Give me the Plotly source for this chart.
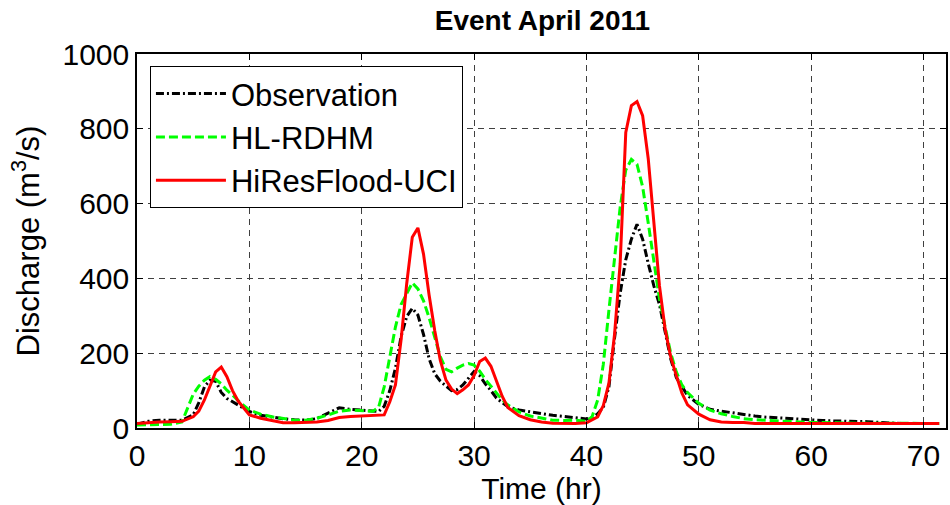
import plotly.graph_objects as go

# Time axis (hours since event start)
time_hr = [0, 1, 2, 3, 4, 5, 5.5, 6, 6.5, 7, 7.5, 8, 8.5, 9, 10, 11, 12, 13, 14, 15,
           16, 17, 18, 19, 20, 21, 21.5, 22, 22.5, 23, 23.5, 24, 24.5, 25, 25.5, 26,
           26.5, 27, 27.5, 28, 28.5, 29, 29.5, 30, 30.5, 31, 31.5, 32, 32.5, 33, 34,
           35, 36, 37, 38, 39, 40, 40.5, 41, 41.5, 42, 42.5, 43, 43.5, 44, 44.5, 45,
           45.5, 46, 46.5, 47, 47.5, 48, 48.5, 49, 50, 51, 52, 53, 54, 55, 56, 57, 58,
           59, 60, 61, 62, 63, 64, 65, 66, 67, 68, 69, 70, 71, 71.4]

observation = [10, 18, 21, 21, 21, 35, 68, 110, 128, 125, 95, 79, 70, 60, 44, 34, 29, 25, 22, 21,
               25, 40, 54, 50, 48, 45, 44, 58, 100, 160, 244, 298, 320, 302, 250, 185,
               145, 125, 112, 100, 103, 115, 133, 151, 140, 118, 100, 80, 68, 57, 48,
               43, 37, 34, 31, 28, 24, 28, 38, 55, 110, 240, 360, 450, 505, 545, 505,
               440, 380, 330, 253, 185, 135, 110, 87, 63, 50, 45, 40, 36, 32, 29, 27, 25,
               23, 21, 20, 19, 19, 18, 17, 15, 13, 12, 12, 12, 12, 12]

hl_rdhm = [8, 9, 10, 10, 16, 90, 112, 128, 138, 130, 118, 101, 88, 73, 48, 37, 30, 25, 21, 21,
           26, 35, 45, 48, 46, 45, 55, 110, 190, 270, 330, 360, 388, 372, 340, 295,
           240, 190, 157, 150, 160, 168, 172, 168, 152, 130, 112, 95, 75, 62, 43,
           32, 26, 21, 20, 21, 18, 30, 75, 170, 315, 455, 590, 690, 718, 705, 645,
           548, 448, 345, 270, 200, 150, 115, 95, 66, 48, 38, 31, 25, 22, 20, 19, 17,
           16, 15, 14, 14, 13, 13, 13, 13, 12, 12, 12, 12, 12, 12]

hiresflood_uci = [12, 15, 16, 17, 18, 30, 45, 75, 115, 150, 163, 137, 100, 72, 35, 26, 20, 14, 14, 14,
                  16, 20, 28, 31, 32, 33, 33, 35, 70, 115, 235, 385, 510, 535, 465, 355,
                  260, 180, 128, 104, 92, 102, 115, 140, 178, 187, 165, 125, 85, 55, 33,
                  22, 16, 13, 12, 12, 14, 21, 30, 60, 120, 250, 440, 790, 862, 873, 835,
                  720, 540, 380, 265, 190, 140, 93, 62, 37, 22, 16, 15, 15, 12, 12, 12, 12,
                  12, 12, 12, 12, 12, 12, 12, 12, 12, 12, 12, 12, 12, 12]

FONT = "Liberation Sans, Arial, sans-serif"

fig = go.Figure()
fig.add_trace(go.Scatter(x=time_hr, y=observation, mode="lines", name="Observation",
                         line=dict(color="black", width=3, dash="8px,3px,2px,3px")))
fig.add_trace(go.Scatter(x=time_hr, y=hl_rdhm, mode="lines", name="HL-RDHM",
                         line=dict(color="#00ff00", width=3, dash="9px,4px")))
fig.add_trace(go.Scatter(x=time_hr, y=hiresflood_uci, mode="lines", name="HiResFlood-UCI",
                         line=dict(color="#ff0000", width=3)))

grid_style = dict(showgrid=True, gridcolor="#404040", gridwidth=1, griddash="6px,5px",
                  showline=True, linecolor="black", linewidth=1.5, mirror="ticks",
                  ticks="inside", ticklen=6, tickcolor="black", zeroline=False,
                  tickfont=dict(family=FONT, size=30, color="black"))

fig.update_xaxes(range=[0, 72], dtick=10, tick0=0,
                 title=dict(text="Time (hr)", font=dict(family=FONT, size=30, color="black"),
                            standoff=4),
                 **grid_style)
fig.update_yaxes(range=[0, 1000], dtick=200, tick0=0,
                 title=dict(text="Discharge (m<sup>3</sup>/s)",
                            font=dict(family=FONT, size=31, color="black"), standoff=14),
                 **grid_style)

fig.update_layout(
    width=950, height=505,
    margin=dict(l=137, r=2, t=54, b=77),
    paper_bgcolor="white", plot_bgcolor="white",
    title=dict(text="<b>Event April 2011</b>", x=0.571, xanchor="center", y=0.96,
               yanchor="middle", font=dict(family=FONT, size=28, color="black")),
    legend=dict(x=0.016, y=0.968, xanchor="left", yanchor="top",
                bgcolor="white", bordercolor="black", borderwidth=1,
                font=dict(family=FONT, size=31, color="black"),
                itemwidth=70, tracegroupgap=0),
    showlegend=True,
)

fig.write_html("out.html")
